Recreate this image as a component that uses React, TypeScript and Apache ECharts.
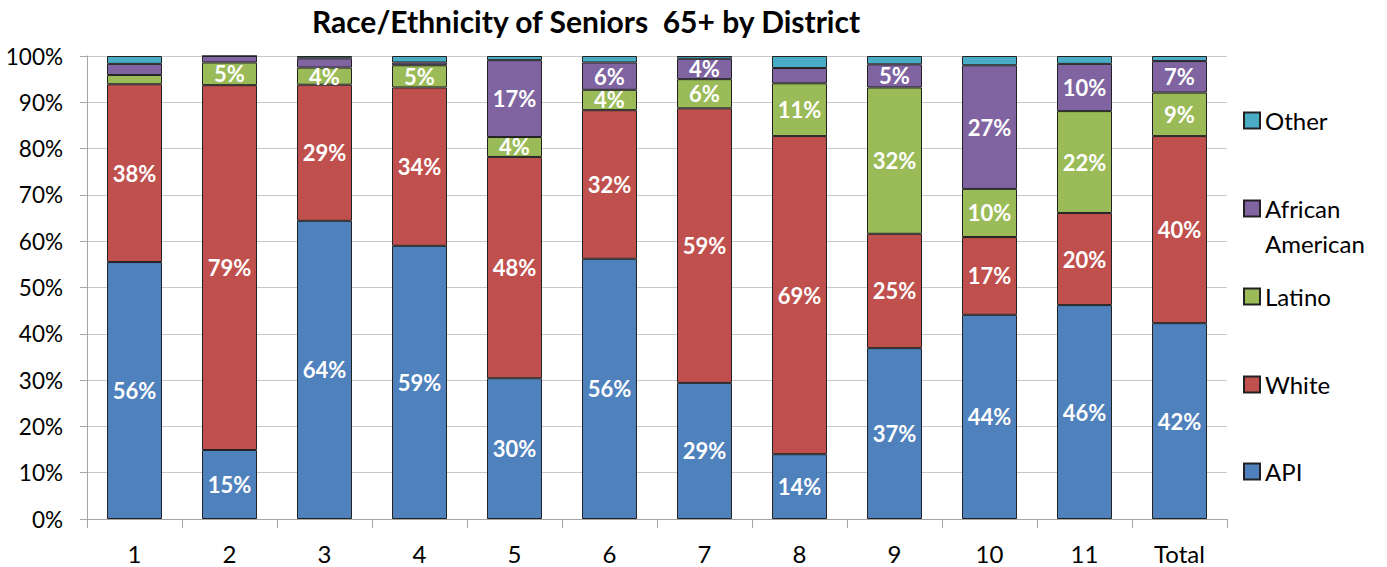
import React, { useEffect, useRef } from "react";
import * as echarts from "echarts";

const categories = ["1", "2", "3", "4", "5", "6", "7", "8", "9", "10", "11", "Total"];
const api = [55.5, 14.9, 64.4, 59.0, 30.4, 56.2, 29.4, 14.0, 36.9, 44.1, 46.2, 42.3];
const white = [38.4, 78.8, 29.4, 34.2, 47.8, 32.1, 59.3, 68.7, 24.7, 16.8, 19.9, 40.4];
const latino = [2.0, 4.9, 3.7, 4.8, 4.3, 4.4, 6.3, 11.4, 31.6, 10.4, 22.0, 9.4];
const africanAmerican = [2.4, 1.4, 2.0, 0.6, 16.6, 5.9, 4.4, 3.3, 5.0, 26.7, 10.2, 6.8];
const other = [1.7, 0.0, 0.5, 1.4, 0.9, 1.4, 0.6, 2.6, 1.8, 2.0, 1.7, 1.1];
const yTicks = [0, 10, 20, 30, 40, 50, 60, 70, 80, 90, 100];

const FONT = "Lato";

export default function App() {
  const ref = useRef<HTMLDivElement>(null);
  useEffect(() => {
    document.body.style.margin = "0";
    const chart = echarts.init(ref.current!, undefined, { renderer: "svg" });
    const label = {
      show: true,
      position: "inside",
      color: "#fff",
      fontFamily: FONT,
      fontWeight: "bold",
      fontSize: 22,
      lineHeight: 18,
      formatter: (p: any) => (p.value >= 3.5 ? Math.round(p.value) + "%" : ""),
    };
    const mk = (name: string, data: number[], color: string, showLabel = true) => ({
      name,
      type: "bar",
      stack: "total",
      data,
      barWidth: 55,
      itemStyle: { color, borderColor: "#222", borderWidth: 1 },
      label: showLabel ? label : { show: false },
      emphasis: { disabled: true },
    });
    const legendItem = (name: string, top: number) => ({
      data: [name],
      orient: "vertical",
      left: 1238,
      top,
      itemWidth: 16,
      itemHeight: 16,
      icon: "rect",
      selectedMode: false,
      textStyle: { fontFamily: FONT, fontSize: 24, color: "#000", lineHeight: 35 },
      formatter: (n: string) => (n === "African American" ? "\u00a0\nAfrican\nAmerican" : n),
    });
    chart.setOption({
      animation: false,
      title: {
        text: "Race/Ethnicity of Seniors  65+ by District",
        left: 581,
        top: 1,
        textAlign: "center",
        textStyle: { fontFamily: FONT, fontWeight: "bold", fontSize: 30, color: "#000" },
      },
      legend: [
        legendItem("Other", 98),
        legendItem("African American", 151),
        legendItem("Latino", 274),
        legendItem("White", 362),
        legendItem("API", 449),
      ],
      grid: { left: 87, top: 56, width: 1140, height: 463, containLabel: false },
      xAxis: {
        type: "category",
        data: categories,
        axisLine: { lineStyle: { color: "#A6A6A6", width: 1 } },
        axisTick: { show: true, length: 9, alignWithLabel: false, lineStyle: { color: "#A6A6A6" } },
        axisLabel: { fontFamily: FONT, fontSize: 24, lineHeight: 20, color: "#000", margin: 24 },
      },
      yAxis: {
        type: "value",
        min: yTicks[0],
        max: yTicks[yTicks.length - 1],
        interval: 10,
        axisLine: { show: true, lineStyle: { color: "#A6A6A6", width: 1 } },
        axisTick: { show: true, inside: false, length: 7, lineStyle: { color: "#A6A6A6" } },
        axisLabel: { fontFamily: FONT, fontSize: 22.5, color: "#000", margin: 24, formatter: "{value}%" },
        splitLine: { show: true, lineStyle: { color: "#C8C8C8", width: 1 } },
      },
      series: [
        mk("API", api, "#4F81BD"),
        mk("White", white, "#C0504D"),
        mk("Latino", latino, "#9BBB59"),
        mk("African American", africanAmerican, "#8064A2"),
        mk("Other", other, "#4BACC6", false),
      ],
    });
    return () => chart.dispose();
  }, []);
  return <div ref={ref} style={{ width: 1387, height: 567 }} />;
}
